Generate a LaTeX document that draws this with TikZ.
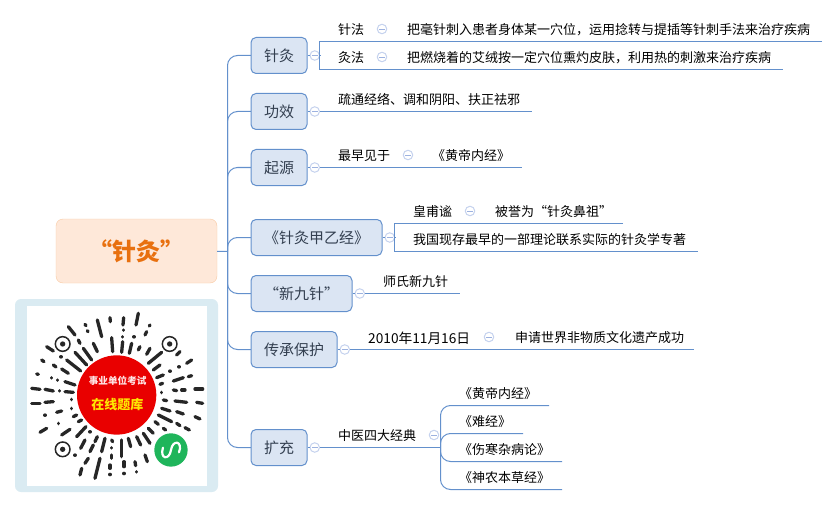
\documentclass[tikz,border=0pt]{standalone}
\usepackage{fontspec}
\setmainfont{Noto Sans CJK SC}
\usepackage{xcolor}
\usetikzlibrary{positioning}
\definecolor{linkblue}{HTML}{6390CC}
\definecolor{topicfill}{HTML}{DBE5F3}
\definecolor{foldblue}{HTML}{C5D2EE}
\definecolor{foldink}{HTML}{9DB2E0}
\definecolor{rootfill}{HTML}{FEE8D9}
\definecolor{rootline}{HTML}{F8C9A2}
\definecolor{rootink}{HTML}{E8700F}
\definecolor{qrframe}{HTML}{DAEBF2}
\definecolor{qrred}{HTML}{E90000}
\definecolor{qrgreen}{HTML}{1FB55B}
\definecolor{topicink}{HTML}{333F50}
\tikzstyle{branch}=[color=linkblue, line width=1pt]
\tikzstyle{rootbox}=[draw=rootline, fill=rootfill, rounded corners=7pt, minimum width=161pt, minimum height=64pt, inner sep=0pt, font=\fontsize{24}{26}\selectfont\bfseries, text=rootink]
\tikzstyle{topic}=[draw=linkblue, fill=topicfill, rounded corners=5pt, minimum height=36pt, inner sep=0pt, line width=1pt, font=\fontsize{15}{17}\selectfont, text=topicink]
\tikzstyle{fold}=[circle, draw=foldblue, fill=white, line width=1pt, minimum size=9.5pt, inner sep=0pt, path picture={\draw[foldink, line width=0.9pt] (-2.8,0) -- (2.8,0);}]
\tikzstyle{leaf}=[anchor=west, inner sep=0pt, font=\fontsize{13}{15}\selectfont, text=black]
\begin{document}
\begin{tikzpicture}[x=1pt, y=-1pt]
\useasboundingbox (0,0) rectangle (838,508);
% root and main topics
\node[rootbox] (root) at (136.5,251) {“针灸”};
\coordinate (spine) at (227.5,251.5);
\draw[branch] (root) -- (spine);
\foreach \n/\x/\y/\w/\t in {zj/279/55.5/56/针灸, gx/279/111.5/56/功效, qy/279/167.5/56/起源, jy/316.5/237.5/131/《针灸甲乙经》, xj/301.5/293.5/101/“新九针”, cc/294/349.5/86/传承保护, kc/279/447.5/56/扩充} {
 \draw[branch, rounded corners=10pt] (spine) |- (\x-\w/2,\y);
 \node[topic, minimum width=\w pt] (\n) at (\x,\y) {\t};
 \node[fold, right=2pt of \n] (f\n) {};
 \draw[branch] (\n) -- (f\n);
}
% connectors
\coordinate (zjb) at (319.5,55.5);
\coordinate (zj1) at (822,41.5);
\coordinate (zj2) at (783,69.5);
\draw[branch] (fzj) -- (zjb);
\draw[branch] (zj1) -| (zjb) |- (zj2);
\coordinate (gxe) at (532,111.5);
\draw[branch] (fgx) -- (gxe);
\coordinate (qye) at (522,167.5);
\draw[branch] (fqy) -- (qye);
\coordinate (jyb) at (394.5,237.5);
\coordinate (jy1) at (623,223.5);
\coordinate (jy2) at (698,251.5);
\draw[branch] (fjy) -- (jyb);
\draw[branch] (jy1) -| (jyb) |- (jy2);
\coordinate (xje) at (460,293.5);
\draw[branch] (fxj) -- (xje);
\coordinate (cce) at (694,349.5);
\draw[branch] (fcc) -- (cce);
\coordinate (kcb) at (440.5,447.5);
\draw[branch] (fkc) -- (kcb);
\foreach \n/\x/\y in {1/549/405.5, 2/523/433.5, 3/562/461.5, 4/562/489.5} {
 \coordinate (kce\n) at (\x,\y);
 \draw[branch, rounded corners=10pt] (kcb) |- (kce\n);
}
% leaf texts
\foreach \n/\x/\y/\t in {a1/338/30/针法, a2/407/30/把毫针刺入患者身体某一穴位，运用捻转与提插等针刺手法来治疗疾病, b1/338/58/灸法, b2/407/58/把燃烧着的艾绒按一定穴位熏灼皮肤，利用热的刺激来治疗疾病, c1/338/100/{疏通经络、调和阴阳、扶正祛邪}, d1/338/156/最早见于, d2/432/156/《黄帝内经》, e1/413/212/皇甫谧, e2/495/212/被誉为“针灸鼻祖”, e3/413/240/我国现存最早的一部理论联系实际的针灸学专著, g1/383/282/师氏新九针, h1/368/338/{\fontsize{13.7}{15}\selectfont 2010年11月16日}, h2/515/338/申请世界非物质文化遗产成功, k1/338/436/中医四大经典, k2/459/394/《黄帝内经》, k3/459/422/《难经》, k4/459/450/《伤寒杂病论》, k5/459/478/《神农本草经》} {
 \node[leaf] (\n) at (\x,\y) {\t};
}
\foreach \n/\x/\y in {fa/382/29, fb/382/57, fd/408/155, fe/470/211, fh/489/337, fk/434/435} {
 \node[fold] (\n) at (\x,\y) {};
}
% code picture
\fill[qrframe, rounded corners=6pt] (15,299) rectangle (218,492);
\fill[white] (27,306) rectangle (207,486);
\begin{scope}[shift={(10,295)}, x=0.3333pt, y=-0.3333pt]
\foreach \xa/\ya/\xb/\yb in {385/55/378/90, 341/68/339/90, 300/68/301/80, 262/75/275/125, 225/88/228/92, 232/107/234/110, 175/95/195/120, 420/90/418/93, 410/110/405/120, 340/105/340/106, 338/125/338/126, 372/125/372/126, 305/128/308/170, 338/140/335/172, 365/145/358/175, 390/155/385/165, 420/160/410/178, 205/135/210/145, 250/145/262/170, 220/160/245/195, 195/172/230/210, 110/155/130/168, 153/185/153/186, 95/195/102/200, 130/210/138/216, 170/195/212/228, 155/222/175/235, 455/172/415/205, 510/170/500/180, 450/210/430/225, 545/195/530/205, 507/215/507/216, 480/228/480/229, 460/240/440/248, 80/237/85/238, 125/248/125/249, 142/255/142/256, 165/260/195/270, 545/242/535/245, 520/248/490/258, 458/265/450/268, 65/280/90/283, 105/283/130/288, 148/287/148/288, 165/290/190/292, 455/292/455/293, 490/285/500/287, 515/285/525/285, 555/282/578/282, 65/325/90/325, 105/322/130/320, 185/313/185/314, 460/315/470/317, 495/318/530/322, 560/322/578/325, 105/360/105/361, 140/352/155/348, 185/340/185/341, 455/340/480/348, 500/350/520/357, 190/365/200/360, 445/360/485/380, 555/365/570/372, 145/385/145/386, 205/380/215/375, 435/380/445/388, 500/385/510/392, 525/398/538/405, 90/412/110/400, 155/420/180/403, 200/425/228/395, 460/400/467/405, 415/400/430/415, 400/415/420/445, 380/425/392/450, 355/430/362/455, 335/435/335/485, 305/435/308/440, 305/458/305/459, 305/480/305/490, 285/430/275/470, 262/425/255/440, 240/410/240/411, 225/435/212/460, 250/450/240/470, 195/480/195/481, 235/490/225/505, 270/490/255/550, 215/520/210/540, 300/510/300/520, 300/538/300/539, 342/500/342/515, 342/535/342/536, 375/500/377/512, 380/530/380/531, 405/480/412/500} {
 \draw[line width=3.3pt, line cap=round, black!85] (\xa,\ya) -- (\xb,\yb);
}
\foreach \x/\y in {158/147, 479/147, 158/463} {
 \draw[line width=1.5pt, black!85] (\x,\y) circle (22);
 \fill[black!85] (\x,\y) circle (8);
}
\fill[qrred] (320,300) circle (119);
\fill[qrgreen] (483,465) circle (50);
\draw[white, line width=2.2pt, line cap=round] (459,458) .. controls (448,492) and (478,498) .. (483,465) .. controls (488,432) and (520,438) .. (507,472);
\node[inner sep=0pt, text=red!10!white, font=\fontsize{9.6}{11}\selectfont\bfseries] (qrtop) at (323,258) {事业单位考试};
\node[inner sep=0pt, text=yellow!90!orange, font=\fontsize{13}{15}\selectfont\bfseries] (qrmid) at (322,328) {在线题库};
\end{scope}
\end{tikzpicture}
\end{document}
